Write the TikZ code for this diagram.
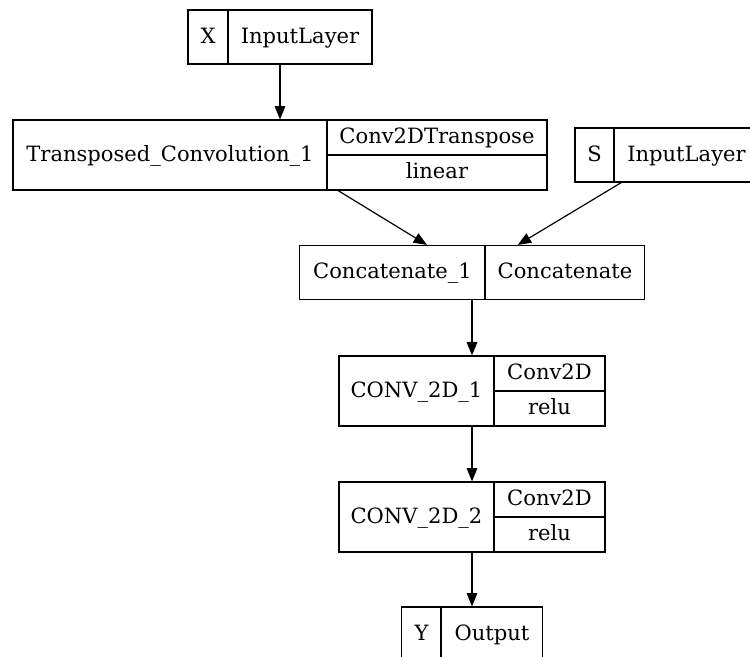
\documentclass[tikz,border=0pt]{standalone}
\usepackage{fontspec}
\setmainfont{DejaVu Serif}
\usetikzlibrary{arrows.meta}

\begin{document}
\begin{tikzpicture}[x=0.75pt, y=-0.75pt,
    rec/.style={draw, line width=0.9pt, inner sep=0pt},
    txt/.style={inner sep=0pt, text height=11pt, text depth=1.3pt, font=\fontsize{15.8}{18}\selectfont},
    arr/.style={-{Triangle[length=10pt, width=8pt]}, line width=0.9pt}
]
\path[use as bounding box, clip] (0,0) rectangle (750,657);

% records
\node[rec, minimum width=138pt, minimum height=40.5pt] (xin) at (280,37) {};
\node[rec, minimum width=400.5pt, minimum height=52.5pt] (trans) at (280,155) {};
\node[rec, minimum width=138pt, minimum height=40.5pt] (sin) at (667,155) {};
\node[rec, minimum width=258.75pt, minimum height=40.5pt] (concat) at (472,272.5) {};
\node[rec, minimum width=199.5pt, minimum height=52.5pt] (conv1) at (472,391) {};
\node[rec, minimum width=199.5pt, minimum height=52.5pt] (conv2) at (472,517) {};
\node[rec, minimum width=105.75pt, minimum height=40.5pt] (yout) at (472,634) {};

% dividers
\draw[line width=0.9pt] (228,10) -- (228,64);
\draw[line width=0.9pt] (327,120) -- (327,190) (327,155) -- (547,155);
\draw[line width=0.9pt] (614,128) -- (614,182);
\draw[line width=0.9pt] (485,245.5) -- (485,299.5);
\draw[line width=0.9pt] (494,356) -- (494,426) (494,391) -- (605,391);
\draw[line width=0.9pt] (494,482) -- (494,552) (494,517) -- (605,517);
\draw[line width=0.9pt] (441,607) -- (441,661);

% labels
\node[txt] (xname) at (208,37) {X};
\node[txt] (xtype) at (300,37) {InputLayer};
\node[txt] (tname) at (170,155) {Transposed\_Convolution\_1};
\node[txt] (ttype) at (437,137.5) {Conv2DTranspose};
\node[txt] (tact) at (437,172.5) {linear};
\node[txt] (sname) at (594.5,155) {S};
\node[txt] (stype) at (686.5,155) {InputLayer};
\node[txt] (cname) at (392.5,272.5) {Concatenate\_1};
\node[txt] (ctype) at (565,272.5) {Concatenate};
\node[txt] (c1name) at (416.5,391) {CONV\_2D\_1};
\node[txt] (c1type) at (549.5,373.5) {Conv2D};
\node[txt] (c1act) at (549.5,408.5) {relu};
\node[txt] (c2name) at (416.5,517) {CONV\_2D\_2};
\node[txt] (c2type) at (549.5,499.5) {Conv2D};
\node[txt] (c2act) at (549.5,534.5) {relu};
\node[txt] (yname) at (421.5,634) {Y};
\node[txt] (ytype) at (492,634) {Output};

% edges
\draw[arr] (xin) -- (trans);
\draw[arr] (trans) -- (concat);
\draw[arr] (sin) -- (concat);
\draw[arr] (concat) -- (conv1);
\draw[arr] (conv1) -- (conv2);
\draw[arr] (conv2) -- (yout);
\end{tikzpicture}
\end{document}
